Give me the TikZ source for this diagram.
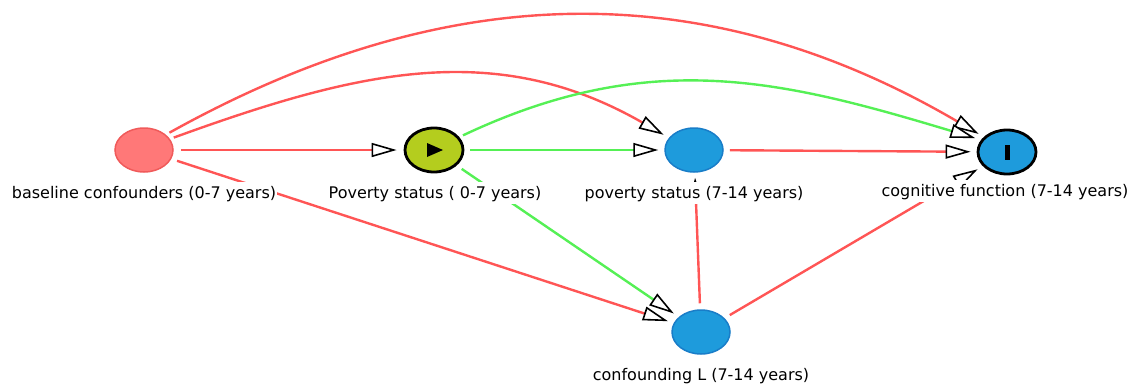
\documentclass[tikz,border=0pt]{standalone}
\usepackage{fontspec}
\setmainfont{DejaVu Sans}
\usetikzlibrary{arrows.meta,shapes.geometric,backgrounds}
\definecolor{edgered}{RGB}{255,85,85}
\definecolor{edgegreen}{RGB}{85,240,85}
\definecolor{nodered}{RGB}{255,120,120}
\definecolor{noderedline}{RGB}{240,90,90}
\definecolor{nodeyel}{RGB}{180,205,30}
\definecolor{nodeblue}{RGB}{30,155,220}
\definecolor{nodeblueline}{RGB}{25,125,200}
\begin{document}
\begin{tikzpicture}[x=1pt,y=-1pt,
  dvar/.style={ellipse, minimum width=58pt, minimum height=44pt, inner sep=0pt, line width=1.5pt},
  confvar/.style={dvar, fill=nodered, draw=noderedline},
  expovar/.style={dvar, fill=nodeyel, draw=black, line width=2.8pt},
  bluevar/.style={dvar, fill=nodeblue, draw=nodeblueline},
  outcvar/.style={dvar, fill=nodeblue, draw=black, line width=2.8pt},
  lab/.style={fill=white, inner xsep=1pt, inner ysep=1.5pt, text height=15pt, text depth=4pt, font=\fontsize{16}{18}\selectfont, anchor=base},
  conn/.style={line width=2.4pt, -{Triangle[length=25pt, width=14pt, fill=white, color=black, line width=1.6pt]}, shorten <=6pt, shorten >=6pt},
  redge/.style={conn, draw=edgered},
  gedge/.style={conn, draw=edgegreen}]
\useasboundingbox (0,0) rectangle (1134,383);
% variables
\node[confvar] (b) at (144,150) {};
\node[expovar] (p0) at (434,150) {};
\node[bluevar] (p1) at (694,150) {};
\node[outcvar] (c) at (1007,152) {};
\node[bluevar] (L) at (701,332) {};
% icons
\fill[black] (p0.center) ++(-7,-7) -- ++(0,14) -- ++(16,-7) -- cycle;
\fill[black] (c.center) ++(-2.5,-7.5) rectangle ++(5,15);
% labels
\node[lab] (lb) at (144,198) {baseline confounders (0-7 years)};
\node[lab] (lp0) at (435,198) {Poverty status ( 0-7 years)};
\node[lab] (lp1) at (694,198) {poverty status (7-14 years)};
\node[lab] (lc) at (1005,196) {cognitive function (7-14 years)};
\node[lab] (lL) at (701,380) {confounding L (7-14 years)};
% edges
\begin{scope}[on background layer]
\draw[redge, shorten <=7pt, shorten >=7pt] (b) -- (p0);
\draw[redge, shorten <=4pt] (b.23) .. controls (357,71) and (495,38) .. (p1.154);
\draw[redge, shorten <=4pt] (b.35) .. controls (415,-4) and (678,-42) .. (c.147);
\draw[redge] (b) -- (L);
\draw[gedge] (p0) -- (p1);
\draw[gedge, shorten <=4pt] (p0.27) .. controls (650,47) and (782,80) .. (c.155);
\draw[gedge] (p0) -- (L);
\draw[redge] (p1) -- (c);
\draw[redge, shorten >=5pt] (L) -- (p1);
\draw[redge] (L) -- (c);
\end{scope}
\end{tikzpicture}
\end{document}
